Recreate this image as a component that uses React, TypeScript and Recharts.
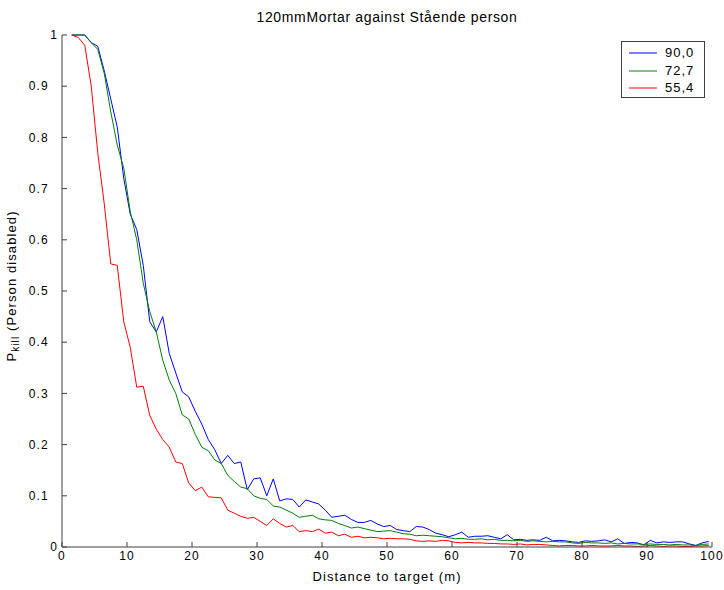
import { LineChart, Line, XAxis, YAxis } from 'recharts';

// P_kill per distance (x = 1.5 ... 99.5 m)
const blue = [
  1.0, 1.0, 1.0, 0.985, 0.978, 0.93, 0.875, 0.82, 0.72, 0.65,
  0.62, 0.55, 0.44, 0.42, 0.45, 0.378, 0.34, 0.303, 0.293, 0.265,
  0.24, 0.21, 0.19, 0.163, 0.179, 0.163, 0.166, 0.112, 0.133, 0.135,
  0.1, 0.133, 0.09, 0.094, 0.093, 0.078, 0.092, 0.088, 0.084, 0.072,
  0.058, 0.06, 0.062, 0.054, 0.048, 0.048, 0.052, 0.045, 0.04, 0.042,
  0.034, 0.032, 0.03, 0.04, 0.039, 0.034, 0.027, 0.024, 0.02, 0.024,
  0.029, 0.019, 0.021, 0.021, 0.022, 0.019, 0.016, 0.024, 0.014, 0.015,
  0.013, 0.014, 0.013, 0.019, 0.012, 0.013, 0.012, 0.01, 0.009, 0.012,
  0.011, 0.012, 0.014, 0.01, 0.016, 0.007, 0.009, 0.008, 0.004, 0.013,
  0.008, 0.01, 0.009, 0.01, 0.01, 0.006, 0.003, 0.008, 0.011,
];

const green = [
  1.0, 1.0, 1.0, 0.985, 0.972, 0.925, 0.85, 0.785, 0.74, 0.655,
  0.6, 0.515, 0.46, 0.42, 0.365, 0.326, 0.3, 0.258, 0.25, 0.22,
  0.195, 0.188, 0.17, 0.163, 0.14, 0.128, 0.117, 0.114, 0.1, 0.095,
  0.093, 0.08, 0.078, 0.072, 0.066, 0.058, 0.06, 0.062, 0.055, 0.053,
  0.052, 0.046, 0.042, 0.037, 0.039, 0.036, 0.033, 0.03, 0.031, 0.032,
  0.029, 0.026, 0.025, 0.022, 0.023, 0.022, 0.021, 0.02, 0.018, 0.016,
  0.017, 0.015, 0.015, 0.016, 0.014, 0.015, 0.013, 0.013, 0.012, 0.013,
  0.011, 0.012, 0.011, 0.01, 0.011, 0.01, 0.01, 0.008, 0.007, 0.009,
  0.008, 0.008, 0.007, 0.008, 0.006, 0.007, 0.006, 0.006, 0.005, 0.006,
  0.005, 0.005, 0.004, 0.005, 0.004, 0.004, 0.003, 0.005, 0.006,
];

const red = [
  1.0, 0.995, 0.98, 0.9, 0.77, 0.67, 0.553, 0.55, 0.44, 0.39,
  0.312, 0.314, 0.257, 0.23, 0.21, 0.195, 0.166, 0.163, 0.125, 0.11,
  0.117, 0.098, 0.097, 0.096, 0.072, 0.066, 0.06, 0.056, 0.058, 0.05,
  0.042, 0.055, 0.046, 0.039, 0.042, 0.03, 0.032, 0.03, 0.035, 0.027,
  0.029, 0.022, 0.025, 0.019, 0.021, 0.018, 0.019, 0.018, 0.016, 0.017,
  0.016, 0.016, 0.015, 0.012, 0.011, 0.012, 0.011, 0.013, 0.012, 0.009,
  0.008, 0.009, 0.008, 0.008, 0.007, 0.007, 0.006, 0.006, 0.005, 0.006,
  0.004, 0.005, 0.005, 0.004, 0.003, 0.002, 0.003, 0.003, 0.002, 0.002,
  0.003, 0.002, 0.002, 0.002, 0.003, 0.002, 0.002, 0.001, 0.002, 0.003,
  0.002, 0.001, 0.002, 0.002, 0.001, 0.001, 0.002, 0.002, 0.003,
];

const distance = blue.map((_, i) => i + 1.5);

const xTicks = [0, 10, 20, 30, 40, 50, 60, 70, 80, 90, 100];
const yTicks = [0, 0.1, 0.2, 0.3, 0.4, 0.5, 0.6, 0.7, 0.8, 0.9, 1];

const series = [
  { key: 's90', name: '90,0', color: '#0000ff', values: blue },
  { key: 's72', name: '72,7', color: '#008000', values: green },
  { key: 's55', name: '55,4', color: '#ff0000', values: red },
];

const data = distance.map((d, i) => {
  const row: Record<string, number> = { d };
  series.forEach((s) => { row[s.key] = s.values[i]; });
  return row;
});

const font = '"Liberation Sans", Arial, sans-serif';
const axisColor = '#404040';

// matlab puts the whole-number labels closer to the axis than the decimals
const YTick = (p: any) => {
  const v = p.payload.value;
  const whole = v === 0 || v === 1;
  return (
    <text x={whole ? p.x : p.x - 9} y={p.y} dy="0.355em" textAnchor="end" fontSize={12} letterSpacing={1.2} fill="#000">
      {String(v)}
    </text>
  );
};

export default function App() {
  return (
    <div style={{ position: 'absolute', left: 0, top: 0, width: 724, height: 590, background: '#fff', fontFamily: font }}>
      <div style={{ position: 'absolute', left: 62, width: 650, top: 9, textAlign: 'center', fontSize: 14, letterSpacing: 0.65, lineHeight: '16px', color: '#000' }}>
        120mmMortar against Stående person
      </div>
      <LineChart width={724} height={590} data={data} margin={{ top: 35, right: 12, bottom: 0, left: 0 }}>
        <XAxis
          dataKey="d"
          type="number"
          domain={[0, 100]}
          ticks={xTicks}
          height={43}
          stroke={axisColor}
          tickSize={-5}
          tickMargin={9}
          tick={{ fontSize: 12, fill: '#000', letterSpacing: 1.2 }}
          label={{
            content: (p: any) => (
              <text x={p.viewBox.x + p.viewBox.width / 2} y={581} textAnchor="middle" fontSize={13} letterSpacing={1.1} fill="#000">
                Distance to target (m)
              </text>
            ),
          }}
        />
        <XAxis
          xAxisId="top"
          dataKey="d"
          type="number"
          orientation="top"
          domain={[0, 100]}
          ticks={xTicks}
          height={0}
          stroke={axisColor}
          tickSize={-5}
          tickFormatter={() => ''}
        />
        <YAxis
          type="number"
          domain={[0, 1]}
          ticks={yTicks}
          width={62}
          stroke={axisColor}
          tickSize={-5}
          tickMargin={9}
          tick={YTick}
          label={{
            content: (p: any) => {
              const cy = p.viewBox.y + p.viewBox.height / 2 - 5;
              return (
                <text x={16} y={cy} transform={`rotate(-90 16 ${cy})`} textAnchor="middle" fontSize={13} letterSpacing={1.1} fill="#000">
                  <tspan>P</tspan>
                  <tspan dy={3} fontSize={10}>kill</tspan>
                  <tspan dy={-3}> (Person disabled)</tspan>
                </text>
              );
            },
          }}
        />
        <YAxis
          yAxisId="right"
          type="number"
          orientation="right"
          domain={[0, 1]}
          ticks={yTicks}
          width={0}
          stroke={axisColor}
          tickSize={-5}
          tickFormatter={() => ''}
        />
        {series.map((s) => (
          <Line
            key={s.key}
            dataKey={s.key}
            name={s.name}
            type="linear"
            stroke={s.color}
            strokeWidth={1}
            dot={false}
            activeDot={false}
            isAnimationActive={false}
          />
        ))}
      </LineChart>
      <div style={{ position: 'absolute', left: 621, top: 41, width: 84, height: 57, border: '1px solid #404040', background: '#fff', boxSizing: 'border-box', paddingTop: 2 }}>
        {series.map((s) => (
          <div key={s.key} style={{ display: 'flex', alignItems: 'center', height: 17.5, fontSize: 13, letterSpacing: 1, color: '#000' }}>
            <svg width={43} height={17}>
              <line x1={7} x2={35} y1={9} y2={9} stroke={s.color} strokeWidth={1} />
            </svg>
            <span>{s.name}</span>
          </div>
        ))}
      </div>
    </div>
  );
}
